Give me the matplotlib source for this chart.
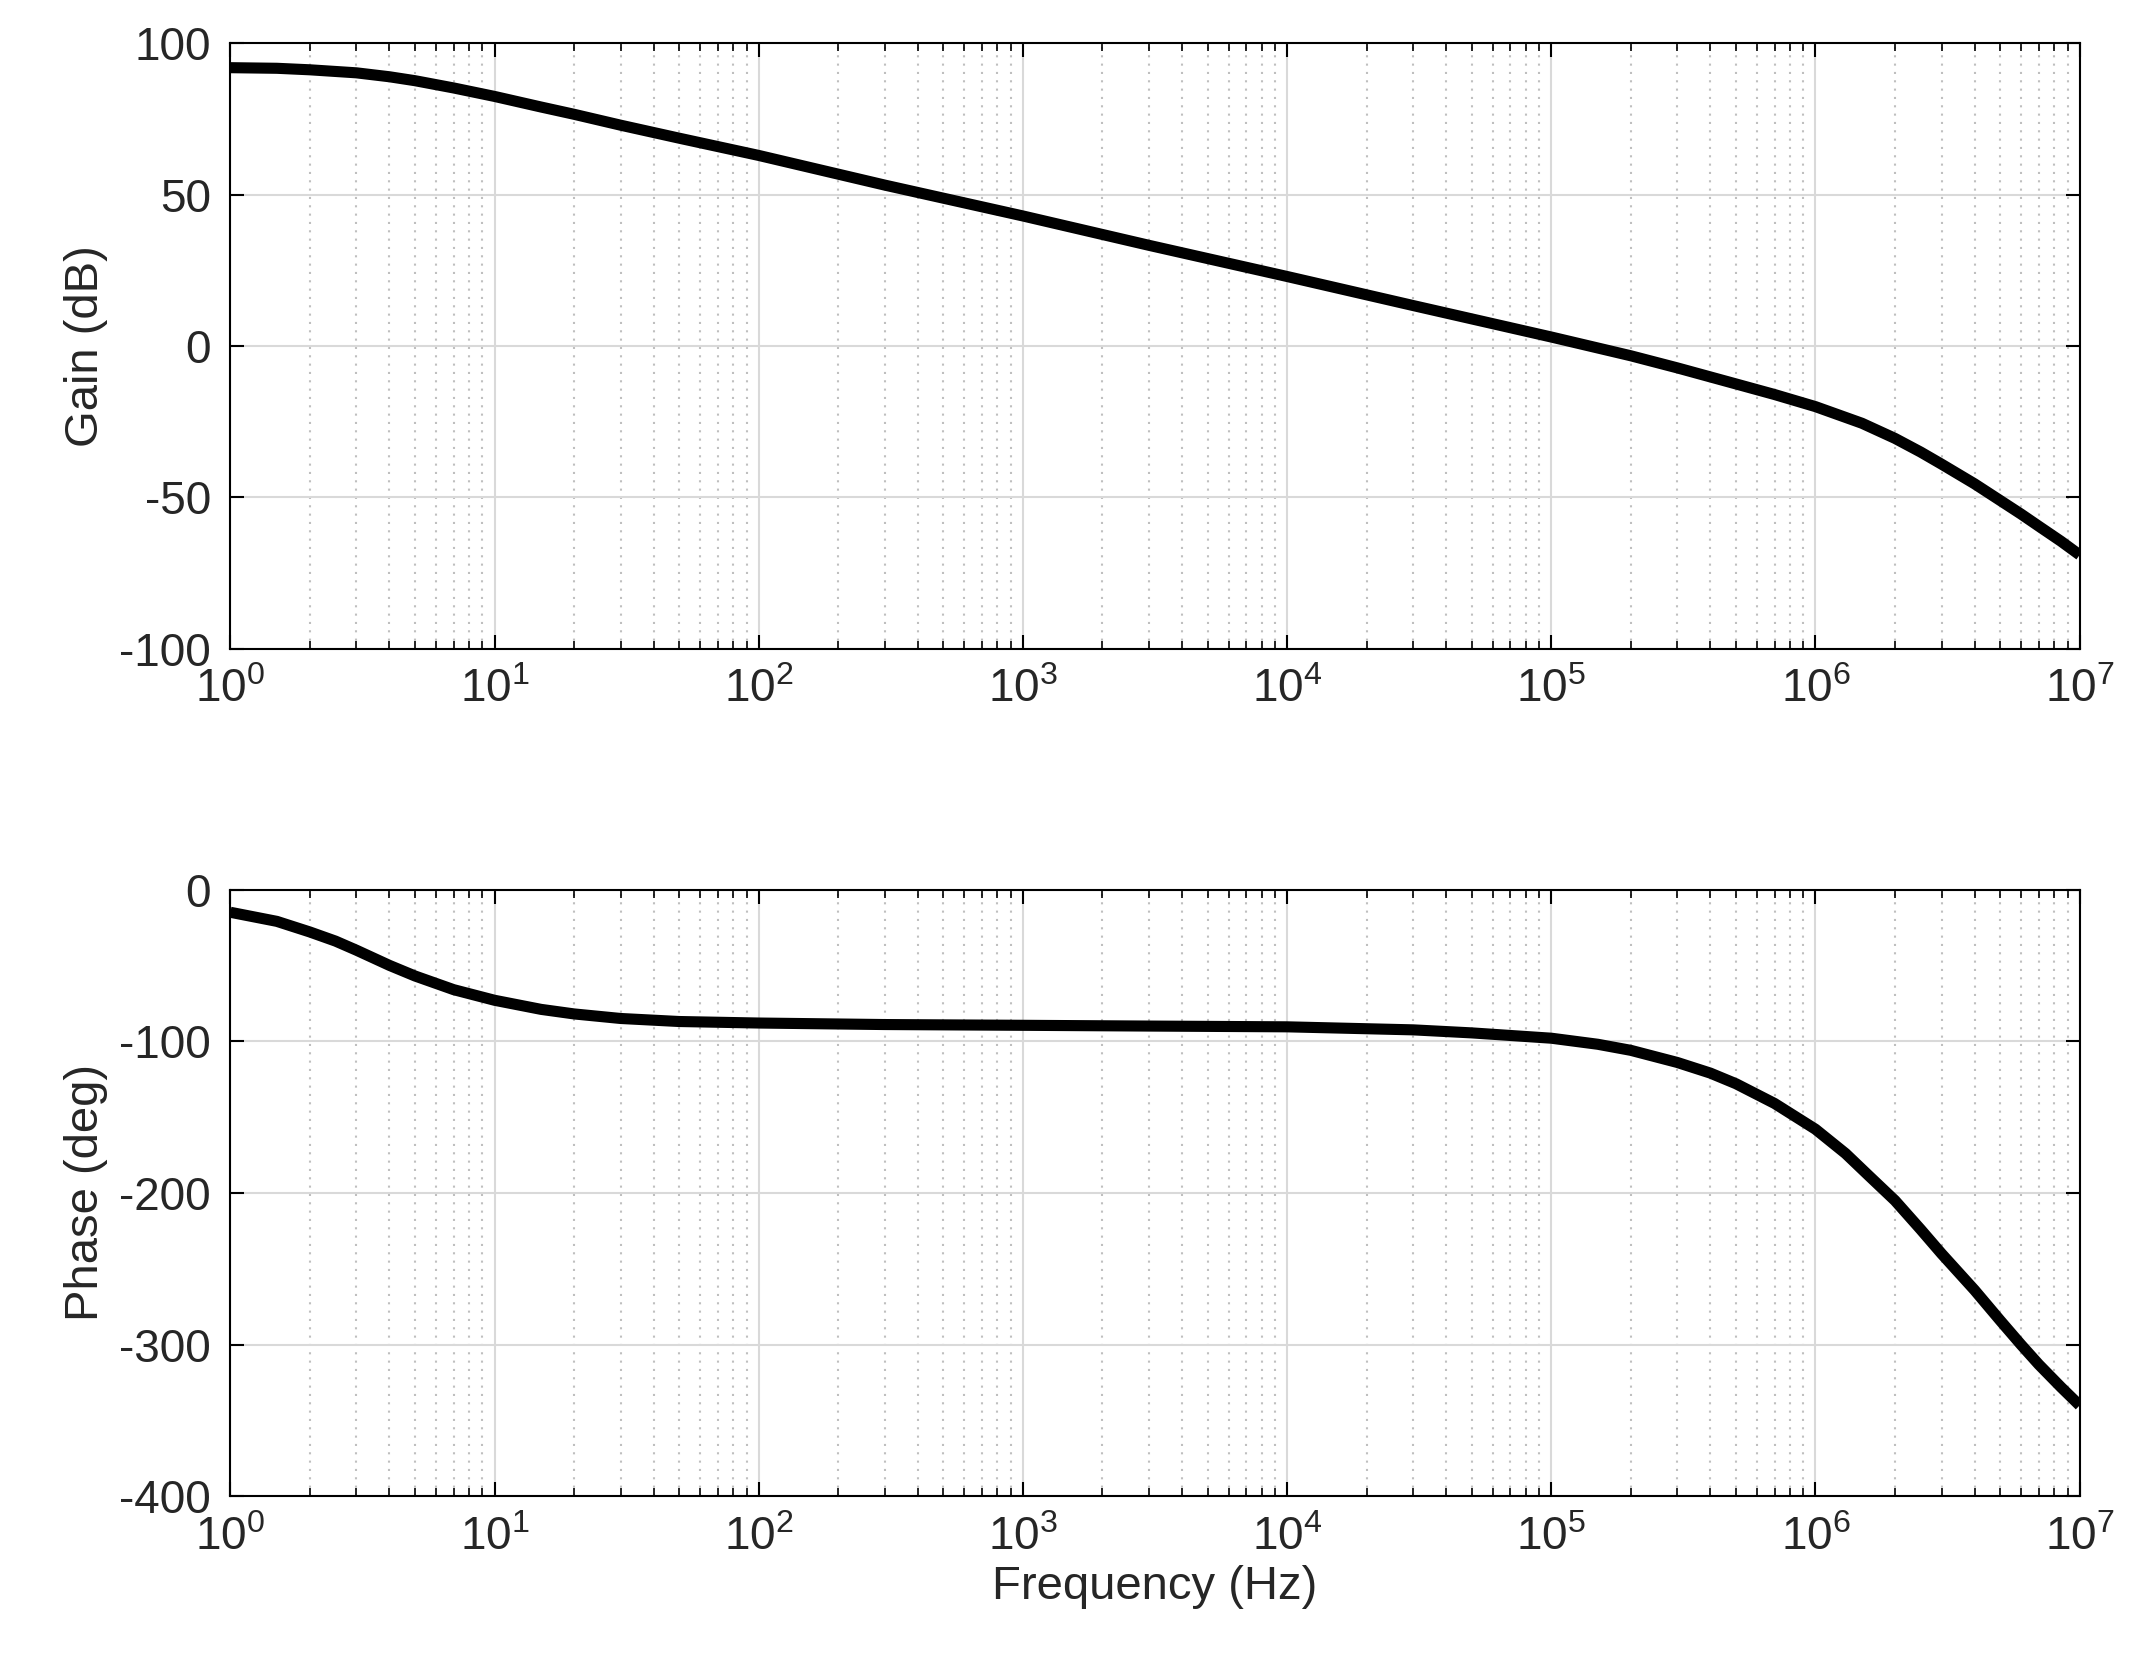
import matplotlib
matplotlib.use("Agg")
import matplotlib.pyplot as plt
from matplotlib.ticker import LogLocator, NullFormatter

plt.rcParams["font.family"] = ["Liberation Sans", "DejaVu Sans"]
plt.rcParams["axes.unicode_minus"] = False

# values
gain_freq = [1, 1.5, 2, 3, 4, 5, 7, 10, 15, 20, 30, 50, 100, 300, 1e3, 3e3, 1e4, 3e4, 1e5, 2e5, 3e5, 5e5,
             7e5, 1e6, 1.5e6, 2e6, 2.5e6, 3e6, 4e6, 5e6, 6e6, 7e6, 8.5e6, 1e7]
gain_db = [92, 91.8, 91.3, 90.3, 89, 87.7, 85.3, 82.5, 79, 76.6, 73, 68.7, 63, 53.2, 43, 33.3, 23, 13.4, 3, -3.2, -7.2, -12.5,
           -16, -20, -25.5, -30.5, -35, -39, -45.5, -51, -55.5, -59.5, -64.5, -69]
phase_freq = [1, 1.5, 2, 2.5, 3, 4, 5, 7, 10, 15, 20, 30, 50, 100, 300, 1e3, 3e3, 1e4, 3e4, 5e4, 1e5, 1.5e5, 2e5, 3e5, 4e5,
              5e5, 7e5, 1e6, 1.3e6, 1.6e6, 2e6, 2.5e6, 3e6, 4e6, 5e6, 6e6, 7e6, 8.5e6, 1e7]
phase_deg = [-15, -21, -28, -34, -40, -50, -57, -66, -73, -79, -82, -85, -87, -88, -89, -89.5, -90, -90.5, -92.5, -94.5, -98, -102, -106, -114, -121,
             -128, -141, -158, -174, -189, -205, -224, -240, -264, -284, -300, -313, -328, -340]

fig = plt.figure(figsize=(21.33, 16.72), dpi=100)
ax1 = fig.add_axes([0.108, 0.612, 0.867, 0.362])
ax2 = fig.add_axes([0.108, 0.105, 0.867, 0.363])

for ax, x, y, ylim, yticks, ylabel in [
    (ax1, gain_freq, gain_db, (-100, 100), [-100, -50, 0, 50, 100], "Gain (dB)"),
    (ax2, phase_freq, phase_deg, (-400, 0), [-400, -300, -200, -100, 0], "Phase (deg)"),
]:
    ax.plot(x, y, color="black", linewidth=8, solid_capstyle="butt", solid_joinstyle="round")
    ax.set_xscale("log")
    ax.set_xlim(1, 1e7)
    ax.set_ylim(*ylim)
    ax.set_yticks(yticks)
    ax.xaxis.set_major_locator(LogLocator(base=10, numticks=20))
    ax.xaxis.set_minor_locator(LogLocator(base=10, subs=range(2, 10), numticks=100))
    ax.xaxis.set_minor_formatter(NullFormatter())
    ax.grid(True, which="major", color="#d9d9d9", linewidth=1.5)
    ax.grid(True, which="minor", axis="x", color="#bfbfbf", linestyle=(0, (1, 3)), linewidth=1.5)
    ax.set_axisbelow(True)
    ax.tick_params(labelsize=33, labelcolor="#262626", direction="in", length=10, width=1.5,
                   top=True, right=True, pad=14)
    ax.tick_params(which="minor", direction="in", length=6, width=1.2, top=True)
    for s in ax.spines.values():
        s.set_linewidth(1.5)
    ax.set_ylabel(ylabel, fontsize=34, color="#262626", labelpad=8)

ax2.set_xlabel("Frequency (Hz)", fontsize=34, color="#262626")

fig.savefig("out.png", dpi=100)
